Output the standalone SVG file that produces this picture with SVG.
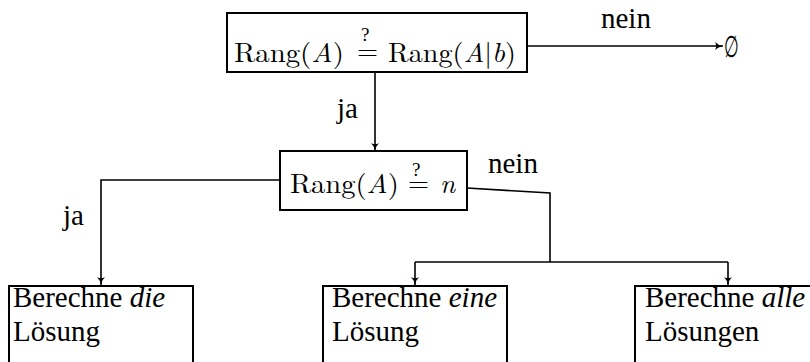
<svg xmlns="http://www.w3.org/2000/svg" width="810" height="362" viewBox="0 0 810 362">
<style>
.box{fill:#fff;stroke:#000;stroke-width:2}
.t{font-family:"Liberation Serif","Times New Roman",serif;font-size:29px;fill:#000}
.m{font-family:"Latin Modern Roman","DejaVu Serif","Liberation Serif",serif;font-size:27px;fill:#000}
.i{font-style:italic}
.q{font-family:"Liberation Serif",serif;font-size:19px}
.c{fill:none;stroke:#000;stroke-width:1.6}
</style>
<defs>
<marker id="ah" viewBox="0 0 10 10" refX="10" refY="5" markerWidth="8" markerHeight="8" markerUnits="userSpaceOnUse" orient="auto">
<path d="M0,0 Q4,4 10,5 Q4,6 0,10 Q3,5 0,0 Z" fill="#000"/>
</marker>
</defs>
<g id="connectors">
<line class="c" x1="527" y1="46" x2="723" y2="46" marker-end="url(#ah)"/>
<line class="c" x1="375" y1="73" x2="375" y2="151" marker-end="url(#ah)"/>
<path class="c" d="M280,180 H101 V285" marker-end="url(#ah)"/>
<path class="c" d="M467,188 L550,193 V262"/>
<path class="c" d="M415,262 H728"/>
<line class="c" x1="415" y1="262" x2="415" y2="285" marker-end="url(#ah)"/>
<line class="c" x1="728" y1="262" x2="728" y2="285" marker-end="url(#ah)"/>
<text class="t" x="601" y="28">nein</text>
<text class="t" x="337" y="118">ja</text>
<text class="t" x="488" y="173">nein</text>
<text class="t" x="63" y="225">ja</text>
</g>
<g id="n1">
<rect class="box" x="227" y="13" width="300" height="59"/>
<text class="m" x="234" y="62" textLength="110" lengthAdjust="spacingAndGlyphs">Rang(<tspan class="i">A</tspan>)</text>
<text class="m" x="357" y="60">=<tspan class="q" dx="-17" dy="-19">?</tspan></text>
<text class="m" x="388" y="62" textLength="128" lengthAdjust="spacingAndGlyphs">Rang(<tspan class="i">A</tspan>|<tspan class="i">b</tspan>)</text>
</g>
<g id="n2">
<rect class="box" x="280" y="151" width="187" height="59"/>
<text class="m" x="290" y="193" textLength="109" lengthAdjust="spacingAndGlyphs">Rang(<tspan class="i">A</tspan>)</text>
<text class="m" x="408" y="192">=<tspan class="q" dx="-17" dy="-16">?</tspan></text>
<text class="m i" x="440" y="193">n</text>
</g>
<g id="ergebnis">
<text class="m" transform="translate(724,57) scale(0.62,1.1)">∅</text>
</g>
<g id="b1">
<rect class="box" x="9" y="286" width="184" height="90"/>
<text class="t" x="13" y="307">Berechne <tspan class="i">die</tspan></text>
<text class="t" x="13" y="341">Lösung</text>
</g>
<g id="b2">
<rect class="box" x="323" y="286" width="184" height="90"/>
<text class="t" x="332" y="307">Berechne <tspan class="i">eine</tspan></text>
<text class="t" x="332" y="341">Lösung</text>
</g>
<g id="b3">
<rect class="box" x="635" y="286" width="200" height="90"/>
<text class="t" x="645" y="307">Berechne <tspan class="i">alle</tspan></text>
<text class="t" x="645" y="341">Lösungen</text>
</g>
</svg>
